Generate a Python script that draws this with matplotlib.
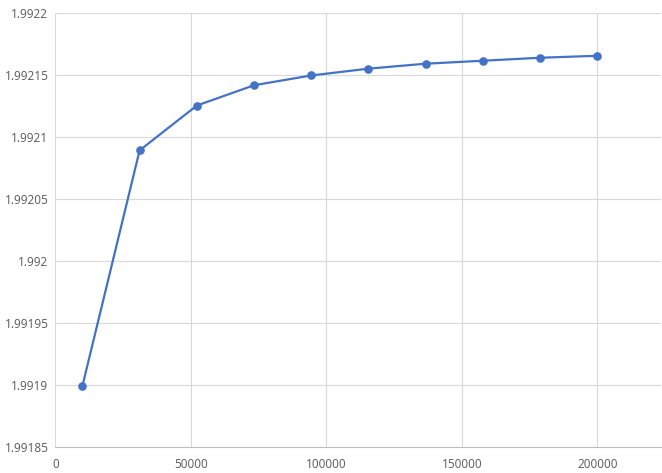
import matplotlib
matplotlib.use('Agg')
import matplotlib.pyplot as plt
from matplotlib.ticker import FuncFormatter, MultipleLocator

# data
x_vals = [10000, 31111, 52222, 73333, 94444, 115556, 136667, 157778, 178889, 200000]
y_vals = [1.9918990, 1.9920893, 1.9921255, 1.9921419, 1.9921498,
          1.9921553, 1.9921593, 1.9921617, 1.9921641, 1.9921657]

plt.rcParams['font.family'] = ['Open Sans', 'DejaVu Sans']

fig = plt.figure(figsize=(6.62, 4.73), dpi=100)
ax = fig.add_axes([55.3 / 662, 1 - 446.7 / 473, (661 - 55.3) / 662, (446.7 - 13.3) / 473])

ax.plot(x_vals, y_vals, color='#4472C4', linewidth=1.6, marker='o', markersize=5.2, zorder=3)

ax.set_xlim(0, 223500)
ax.set_ylim(1.99185, 1.9922)
ax.xaxis.set_major_locator(MultipleLocator(50000))
ax.yaxis.set_major_locator(MultipleLocator(0.00005))


def fmt_y(v, pos):
	s = '%.5f' % v
	return s.rstrip('0').rstrip('.')


ax.yaxis.set_major_formatter(FuncFormatter(fmt_y))
ax.xaxis.set_major_formatter(FuncFormatter(lambda v, p: '%d' % v))

ax.grid(True, color='#D9D9D9', linewidth=0.8)
ax.set_axisbelow(True)
for side in ['top', 'right', 'left']:
	ax.spines[side].set_visible(False)
ax.spines['bottom'].set_color('#BFBFBF')
ax.spines['bottom'].set_linewidth(0.8)

ax.tick_params(axis='both', length=0, labelsize=8.5, colors='#595959')
ax.tick_params(axis='y', pad=5)
ax.tick_params(axis='x', pad=8)

fig.savefig('out.png', dpi=100)
